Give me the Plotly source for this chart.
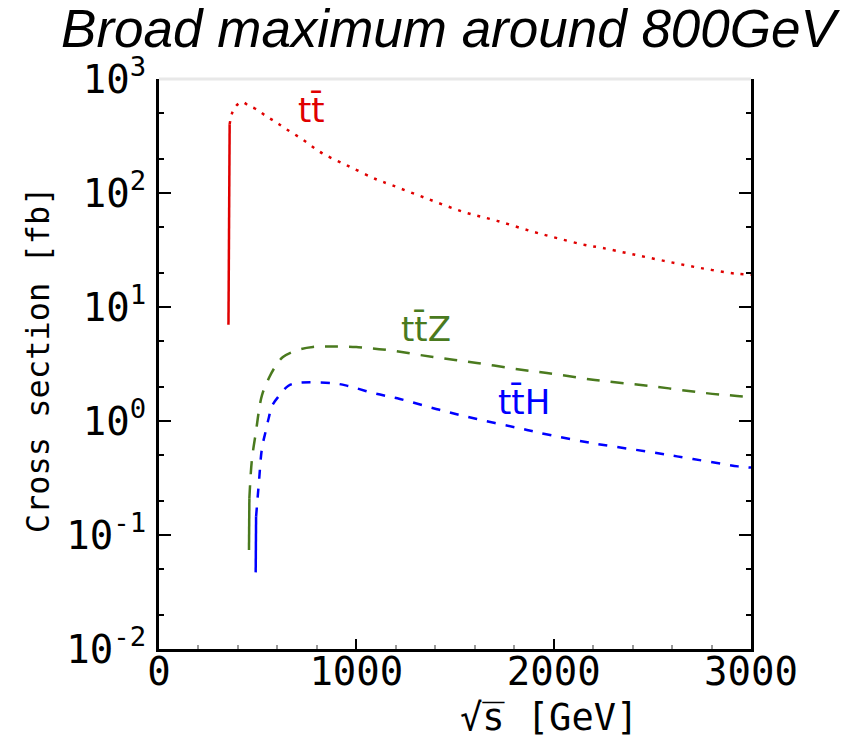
import plotly.graph_objects as go
import math

# ---- data ----
sqrt_s_tt = [352, 355, 358, 370, 390, 421, 456, 492, 542, 593, 644, 725, 826, 958, 1100,
             1181, 1353, 1546, 1713, 1890, 2022, 2159, 2245, 2392, 2559, 2742, 2924, 3000]
sigma_tt = [7, 120, 400, 500, 580, 630, 580, 545, 473, 418, 364, 297, 224, 173, 132,
            117, 90, 68, 57, 46, 40, 35, 33, 29.2, 25.4, 22, 19.6, 19.2]

sqrt_s_ttz = [456, 458, 471, 492, 507, 522, 557, 588, 628, 704, 780, 870, 1000, 1155,
              1389, 1611, 1845, 1966, 2209, 2488, 2767, 2929, 3000]
sigma_ttz = [0.074, 0.21, 0.46, 0.82, 1.25, 1.69, 2.38, 2.98, 3.64, 4.2, 4.46, 4.5, 4.45, 4.2,
             3.64, 3.23, 2.80, 2.64, 2.29, 2.03, 1.76, 1.66, 1.62]

sqrt_s_tth = [490, 492, 507, 522, 542, 557, 573, 608, 654, 699, 877, 958, 1084, 1221,
              1409, 1611, 1845, 1931, 2194, 2488, 2706, 2934, 3000]
sigma_tth = [0.047, 0.145, 0.30, 0.58, 0.83, 1.08, 1.36, 1.66, 2.03, 2.15, 2.15, 2.03, 1.76, 1.56,
             1.27, 1.04, 0.85, 0.785, 0.64, 0.535, 0.464, 0.40, 0.39]

y_tickvals = [0.01, 0.1, 1, 10, 100, 1000]
y_ticktext = ["10<sup>-2</sup>", "10<sup>-1</sup>", "10<sup>0</sup>",
              "10<sup>1</sup>", "10<sup>2</sup>", "10<sup>3</sup>"]
x_tickvals = [0, 1000, 2000, 3000]
x_ticktext = ["0", "1000", "2000", "3000"]

RED, GREEN, BLUE = "#e00000", "#4a7a1e", "#0000ff"

labels = [("tt\u0304", 775, 537, RED),
          ("tt\u0304Z", 1353, 6.4, GREEN),
          ("tt\u0304H", 1850, 1.47, BLUE)]

fig = go.Figure()

def add_series(xs, ys, color, dash, nsolid):
    # threshold rise drawn solid, remainder with the dash pattern
    fig.add_trace(go.Scatter(x=xs[:nsolid], y=ys[:nsolid], mode="lines",
                             line=dict(color=color, width=2.5), showlegend=False,
                             hoverinfo="skip"))
    fig.add_trace(go.Scatter(x=xs[nsolid - 1:], y=ys[nsolid - 1:], mode="lines",
                             line=dict(color=color, width=2.5, dash=dash, shape="spline"),
                             showlegend=False))

add_series(sqrt_s_tt, sigma_tt, RED, "3px,7px", 3)
add_series(sqrt_s_ttz, sigma_ttz, GREEN, "13px,11px", 2)
add_series(sqrt_s_tth, sigma_tth, BLUE, "9px,10px", 2)

for txt, xv, yv, col in labels:
    fig.add_annotation(x=xv, y=math.log10(yv), xref="x", yref="y", text=txt,
                       showarrow=False, font=dict(family="DejaVu Sans", size=34, color=col))

# axis titles
fig.add_annotation(x=0.659, y=-0.12, xref="paper", yref="paper",
                   xanchor="center", yanchor="middle",
                   text="\u221as\u0305 [GeV]", showarrow=False,
                   font=dict(family="DejaVu Sans Mono", size=37, color="black"))
fig.add_annotation(x=-0.204, y=0.507, xref="paper", yref="paper",
                   xanchor="center", yanchor="middle",
                   text="Cross section [fb]", textangle=-90, showarrow=False,
                   font=dict(family="DejaVu Sans Mono", size=32, color="black"))

# light top frame line
fig.add_shape(type="line", xref="paper", yref="paper", x0=0, x1=1, y0=1, y1=1,
              line=dict(color="#e8e8e8", width=3))

fig.update_layout(
    width=851, height=739,
    margin=dict(l=159, r=100, t=79, b=90),
    paper_bgcolor="white", plot_bgcolor="white",
    title=dict(text="Broad maximum around 800GeV", x=0.489, xref="paper",
               y=0.962, yref="container", xanchor="center", yanchor="middle",
               font=dict(family="Liberation Sans", size=53, style="italic", color="black")),
    xaxis=dict(range=[0, 3000], tickvals=x_tickvals, ticktext=x_ticktext,
               showgrid=False, zeroline=False, showline=True, linecolor="black", linewidth=3,
               ticks="inside", ticklen=10, tickwidth=2, tickcolor="black",
               ticklabelstandoff=-14,
               minor=dict(ticks="inside", ticklen=4, tickwidth=2, tickcolor="#999999", dtick=200),
               tickfont=dict(family="DejaVu Sans Mono", size=39, color="black")),
    yaxis=dict(type="log", range=[-2, 3], tickvals=y_tickvals, ticktext=y_ticktext,
               showgrid=False, zeroline=False, showline=True, linecolor="black", linewidth=3,
               mirror="ticks",
               ticks="inside", ticklen=12, tickwidth=2, tickcolor="black",
               ticklabelstandoff=2,
               minor=dict(ticks="inside", ticklen=5, tickwidth=2, tickcolor="black"),
               tickfont=dict(family="DejaVu Sans Mono", size=39, color="black")),
)

fig.write_html("out.html")
